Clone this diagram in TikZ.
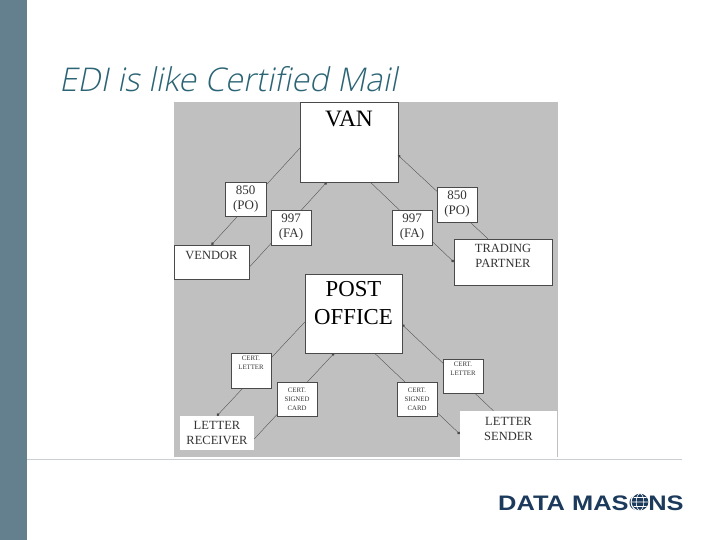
\documentclass[tikz,border=0pt]{standalone}
\usepackage{fontspec}
\setmainfont{Liberation Serif}
\newfontfamily\titlefont{Open Sans Light}[FakeSlant=0.2]
\newfontfamily\logofont{Liberation Sans}
\usetikzlibrary{arrows.meta}
\definecolor{barcol}{HTML}{64808F}
\definecolor{titlecol}{HTML}{2A6475}
\definecolor{panelcol}{HTML}{C0C0C0}
\definecolor{rulecol}{HTML}{C9CFD2}
\definecolor{logocol}{HTML}{1B3A5C}
\definecolor{edgecol}{HTML}{4A4A4A}
\tikzset{
  panelbox/.style={draw=edgecol,line width=0.5pt,fill=white,inner sep=0pt,align=center,text=black!80},
  big/.style={font=\fontsize{23.5}{28}\selectfont},
  bigb/.style={font=\fontsize{22.8}{28}\selectfont},
  mid/.style={font=\fontsize{12.5}{15}\selectfont},
  num/.style={font=\fontsize{13}{15}\selectfont},
  tiny/.style={font=\fontsize{6.8}{9}\selectfont},
  conn/.style={draw=edgecol,line width=0.35pt,-{Circle[length=3pt]}}
}
\begin{document}
\begin{tikzpicture}[x=1pt,y=-1pt]
\useasboundingbox (0,0) rectangle (720,540);
\fill[white] (0,0) rectangle (720,540);
\fill[barcol] (0,0) rectangle (27,540);
\draw[rulecol,line width=1pt] (27,459) -- (682,459);
\node[anchor=base west,inner sep=0pt,text=titlecol,font=\titlefont\fontsize{32.7}{38}\selectfont] (title) at (59,92) {EDI is like Certified Mail};
\fill[panelcol] (174,102) rectangle (558,457);
% main boxes
\node[panelbox,minimum width=97.5pt,minimum height=80pt,label={[big,text=black,yshift=23pt]center:VAN}] (van) at (349,142) {};
\node[panelbox,minimum width=97pt,minimum height=79pt,label={[bigb,text=black,align=center,yshift=10.5pt]center:POST\\OFFICE}] (post) at (353.5,313.5) {};
\node[panelbox,minimum width=75pt,minimum height=34pt,label={[mid,text=black!80,yshift=7pt]center:VENDOR}] (vendor) at (211.5,262) {};
\node[panelbox,minimum width=98pt,minimum height=46pt,label={[mid,text=black!80,align=center,yshift=6.5pt]center:TRADING\\PARTNER}] (trading) at (503,262) {};
\node[panelbox,draw=none,minimum width=74pt,minimum height=34pt,mid] (receiver) at (217,433) {LETTER\\RECEIVER};
\node[panelbox,draw=none,minimum width=97pt,minimum height=46pt,label={[mid,text=black!80,align=center,yshift=5.5pt]center:LETTER\\SENDER}] (sender) at (508.5,434) {};
% connectors
\draw[conn] (van.187) -- (vendor.north);
\draw[conn] (vendor.352) -- (van.241);
\draw[conn] (van.298) -- (trading.west);
\draw[conn] (trading.123) -- (van.345);
\draw[conn] (post.190) -- (receiver.north);
\draw[conn] (receiver.351) -- (post.244);
\draw[conn] (post.298) -- (sender.west);
\draw[conn] (sender.123) -- (post.347);
% label boxes
\node[panelbox,minimum width=40.5pt,minimum height=34pt,num] (pol) at (245.7,199) {850\\(PO)};
\node[panelbox,minimum width=40pt,minimum height=35pt,num] (fal) at (291,227.5) {997\\(FA)};
\node[panelbox,minimum width=40pt,minimum height=35pt,num] (far) at (412,227.5) {997\\(FA)};
\node[panelbox,minimum width=40pt,minimum height=35pt,num] (por) at (457,204.5) {850\\(PO)};
\node[panelbox,minimum width=40pt,minimum height=35pt,tiny] (cll) at (251,370.5) {CERT.\\LETTER\\[6pt]};
\node[panelbox,minimum width=40pt,minimum height=34pt,tiny] (scl) at (297,399) {CERT.\\SIGNED\\CARD};
\node[panelbox,minimum width=40pt,minimum height=34pt,tiny] (scr) at (417,399) {CERT.\\SIGNED\\CARD};
\node[panelbox,minimum width=40pt,minimum height=34pt,tiny] (clr) at (463,376) {CERT.\\LETTER\\[6pt]};
% logo
\node[anchor=base west,inner sep=0pt,text=logocol,xscale=1.21,font=\logofont\bfseries\fontsize{21}{24}\selectfont] (logo) at (498,510) {DATA MASONS};
\fill[white] (640,502) circle (9.5);
\fill[logocol] (640,502) circle (8.3);
\draw[white,line width=0.6pt] (640,502) ellipse (3.8 and 8.3) (631.7,502) -- (648.3,502) (633.5,497.5) -- (646.5,497.5) (633.5,506.5) -- (646.5,506.5);
\end{tikzpicture}
\end{document}
